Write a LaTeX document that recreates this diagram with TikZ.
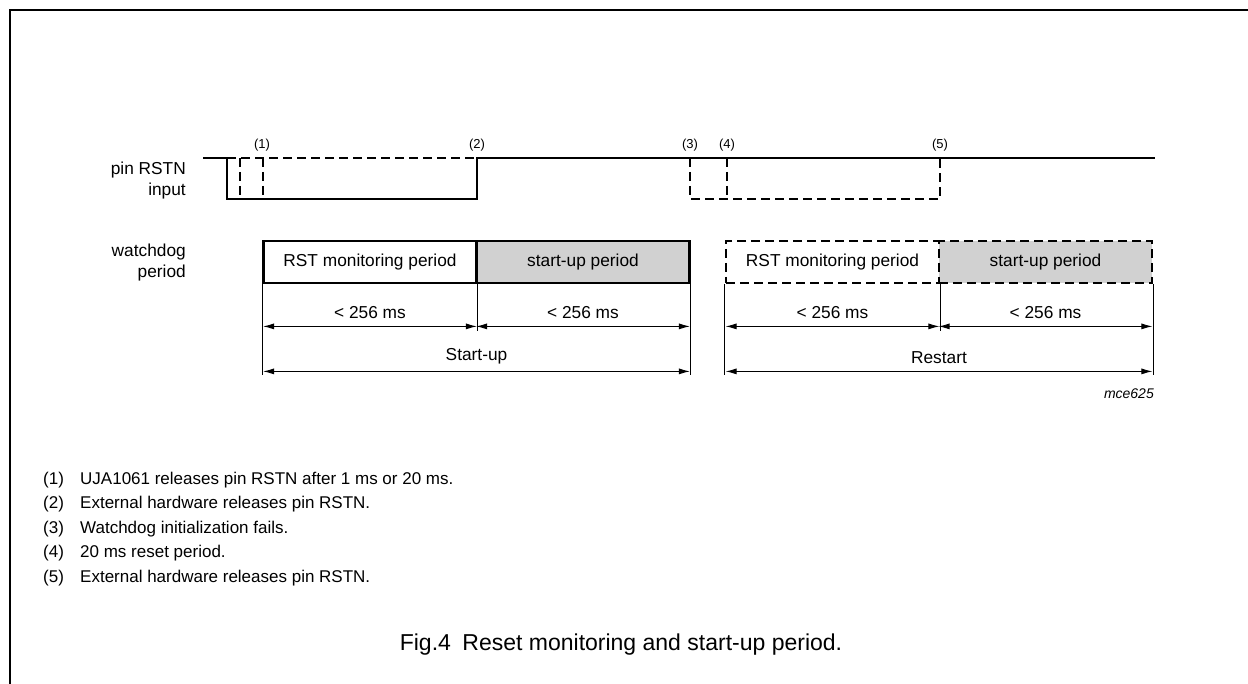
\documentclass[tikz,border=0pt]{standalone}
\usepackage{fontspec}
\setmainfont{Liberation Sans}
\usetikzlibrary{arrows.meta,calc}
\definecolor{boxgray}{gray}{0.82}
\begin{document}
\begin{tikzpicture}[x=1pt,y=-1pt,
  frameline/.style={line width=1.5pt},
  wave/.style={line width=2pt},
  wavedash/.style={line width=2pt,dash pattern=on 9pt off 5pt},
  perbox/.style={draw,line width=2.8pt,minimum width=213pt,minimum height=42pt,inner sep=0pt,font=\fontsize{17.3}{20}\selectfont},
  perdash/.style={perbox,dash pattern=on 9pt off 5pt},
  dimline/.style={line width=0.9pt},
  dimarrow/.style={line width=0.9pt,{Latex[length=11pt,width=6pt]}-{Latex[length=11pt,width=6pt]}},
  dimtext/.style={font=\fontsize{17.3}{20}\selectfont,inner sep=0pt},
  sidelab/.style={font=\fontsize{17.3}{21}\selectfont,align=right,anchor=east,inner sep=0pt},
  evlab/.style={font=\fontsize{13}{15}\selectfont,inner sep=0pt},
  note/.style={font=\fontsize{17}{20}\selectfont,anchor=west,inner sep=0pt},
  capt/.style={font=\fontsize{23}{27}\selectfont,inner sep=0pt}
]
\useasboundingbox (0,0) rectangle (1248,684);
% frame
\coordinate (fbl) at (10,684);
\coordinate (ftl) at (10,10);
\coordinate (ftr) at (1248,10);
\draw[frameline] (fbl) -- (ftl) -- (ftr);

% side labels
\node[sidelab] (pinlab) at (186,181) {pin RSTN\\input};
\node[sidelab] (wdlab) at (186,263) {watchdog\\period};

% waveform coordinates
\coordinate (w0) at (203,158);
\coordinate (wat) at (227,158);
\coordinate (wab) at (227,199);
\coordinate (d1t) at (240,158);
\coordinate (d1b) at (240,199);
\coordinate (d2t) at (263,158);
\coordinate (d2b) at (263,199);
\coordinate (r2b) at (477,199);
\coordinate (r2t) at (477,158);
\coordinate (wend) at (1155,158);
\coordinate (d3t) at (690,158);
\coordinate (d3b) at (690,199);
\coordinate (d4t) at (727,158);
\coordinate (d4b) at (727,199);
\coordinate (d5t) at (940,158);
\coordinate (d5b) at (940,199);

\draw[wave] (w0) -- (wat) -- (wab) -- (r2b) -- (r2t) -- (wend);
\draw[wavedash] (wat) -- (r2t);
\draw[wavedash] (d1t) -- (d1b);
\draw[wavedash] (d2t) -- (d2b);
\draw[wavedash] (d3t) -- (d3b) -- (d5b) -- (d5t);
\draw[wavedash] (d4t) -- (d4b);

% event labels
\node[evlab] (e1) at (262,145) {(1)};
\node[evlab] (e2) at (477,145) {(2)};
\node[evlab] (e3) at (690,145) {(3)};
\node[evlab] (e4) at (727,145) {(4)};
\node[evlab] (e5) at (940,145) {(5)};

% period boxes
\node[perbox,fill=white] (b1) at (370,262) {RST monitoring period};
\node[perbox,fill=boxgray] (b2) at (583,262) {start-up period};
\node[perdash,fill=white] (b3) at (832.5,262) {RST monitoring period};
\node[perdash,fill=boxgray] (b4) at (1045.5,262) {start-up period};

% extension line ends
\coordinate (x1) at ($(b1.south west)+(0,91)$);
\coordinate (x2) at ($(b1.south east)+(0,47)$);
\coordinate (x3) at ($(b2.south east)+(0,91)$);
\coordinate (x4) at ($(b3.south west)+(0,91)$);
\coordinate (x5) at ($(b3.south east)+(0,47)$);
\coordinate (x6) at ($(b4.south east)+(0,91)$);
\draw[dimline] (b1.south west) -- (x1);
\draw[dimline] (b1.south east) -- (x2);
\draw[dimline] (b2.south east) -- (x3);
\draw[dimline] (b3.south west) -- (x4);
\draw[dimline] (b3.south east) -- (x5);
\draw[dimline] (b4.south east) -- (x6);

% arrow ends
\coordinate (a1l) at ($(b1.south west)+(1,42)$);
\coordinate (a1r) at ($(b1.south east)+(-1,42)$);
\coordinate (a2l) at ($(b2.south west)+(1,42)$);
\coordinate (a2r) at ($(b2.south east)+(-1,42)$);
\coordinate (a3l) at ($(b1.south west)+(1,87)$);
\coordinate (a3r) at ($(b2.south east)+(-1,87)$);
\coordinate (a4l) at ($(b3.south west)+(1,42)$);
\coordinate (a4r) at ($(b3.south east)+(-1,42)$);
\coordinate (a5l) at ($(b4.south west)+(1,42)$);
\coordinate (a5r) at ($(b4.south east)+(-1,42)$);
\coordinate (a6l) at ($(b3.south west)+(1,87)$);
\coordinate (a6r) at ($(b4.south east)+(-1,87)$);
\draw[dimarrow] (a1l) -- node[dimtext,above=7pt] (t1) {< 256 ms} (a1r);
\draw[dimarrow] (a2l) -- node[dimtext,above=7pt] (t2) {< 256 ms} (a2r);
\draw[dimarrow] (a3l) -- node[dimtext,above=7pt] (t3) {Start-up} (a3r);
\draw[dimarrow] (a4l) -- node[dimtext,above=7pt] (t4) {< 256 ms} (a4r);
\draw[dimarrow] (a5l) -- node[dimtext,above=7pt] (t5) {< 256 ms} (a5r);
\draw[dimarrow] (a6l) -- node[dimtext,above=7pt] (t6) {Restart} (a6r);

% figure code
\node[font=\fontsize{14}{16}\selectfont\itshape,anchor=east,inner sep=0pt] (code) at (1154,394) {mce625};

% notes
\node[note] (n1) at (43,480) {(1)};
\node[note] (m1) at (80,480) {UJA1061 releases pin RSTN after 1 ms or 20 ms.};
\node[note] (n2) at (43,504.5) {(2)};
\node[note] (m2) at (80,504.5) {External hardware releases pin RSTN.};
\node[note] (n3) at (43,529) {(3)};
\node[note] (m3) at (80,529) {Watchdog initialization fails.};
\node[note] (n4) at (43,553.5) {(4)};
\node[note] (m4) at (80,553.5) {20 ms reset period.};
\node[note] (n5) at (43,578) {(5)};
\node[note] (m5) at (80,578) {External hardware releases pin RSTN.};

% caption
\node[capt] (cap) at (621,645) {Fig.4\hspace{0.5em}Reset monitoring and start-up period.};
\end{tikzpicture}
\end{document}
